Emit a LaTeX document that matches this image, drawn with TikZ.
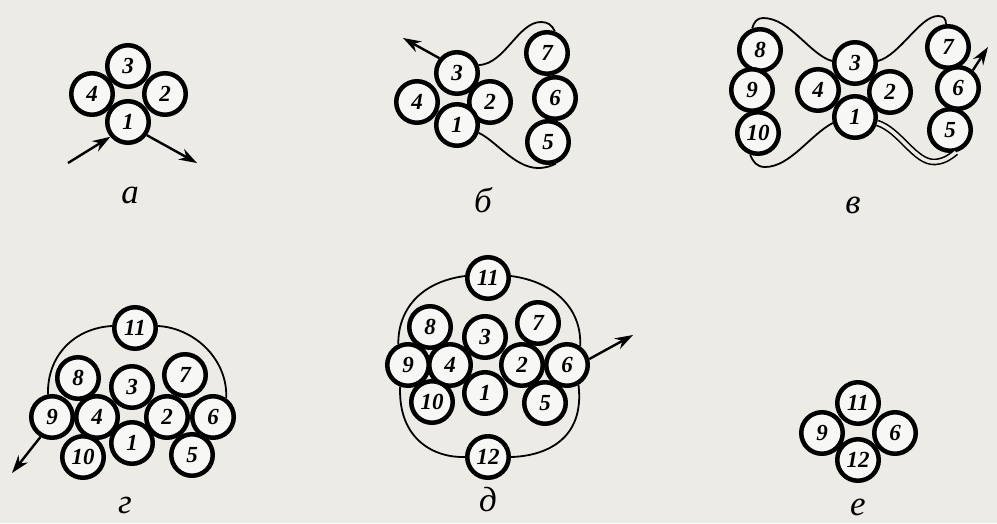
\documentclass[tikz,border=0pt]{standalone}
\usepackage{fontspec}
\setmainfont{Liberation Serif}
\usetikzlibrary{arrows.meta}
\definecolor{paper}{RGB}{236,235,230}

\begin{document}
\begin{tikzpicture}[x=1pt, y=-1pt,
  pulley/.style={circle, draw, line width=4.5pt, fill=paper!40!white, minimum size=41.5pt, inner sep=0pt, font=\fontsize{23}{23}\selectfont\bfseries\itshape},
  belt/.style={line width=1.8pt},
  dbelt/.style={double=paper, double distance=3.5pt, line width=1.6pt},
  flow/.style={line width=2.4pt, -{Stealth[length=18pt,width=12pt]}},
  caption/.style={font=\fontsize{35}{35}\selectfont\itshape}
]
\fill[paper] (0,0) rectangle (997,523);
\useasboundingbox (0,0) rectangle (997,523);

% a
\node[pulley] (a3) at (128,66) {3};
\node[pulley] (a4) at (92,94) {4};
\node[pulley] (a2) at (165,94) {2};
\node[pulley] (a1) at (128,122) {1};
\coordinate (ain) at (68,163);
\coordinate (aout) at (197,163);
\draw[flow] (ain) -- (a1.220);
\draw[flow] (a1.-35) -- (aout);
\node[caption] (capa) at (130,195) {а};

% b
\node[pulley] (b3) at (457,73) {3};
\node[pulley] (b4) at (417,102) {4};
\node[pulley] (b2) at (490,102) {2};
\node[pulley] (b1) at (457,125) {1};
\node[pulley] (b7) at (547,53) {7};
\node[pulley] (b6) at (555,98) {6};
\node[pulley] (b5) at (548,142) {5};
\coordinate (b7t) at (541,22);
\coordinate (b5b) at (538,168);
\coordinate (bout) at (403,38);
\draw[belt] (b3.20) .. controls (505,64) and (518,22) .. (b7t) .. controls (548,22) and (552,25) .. (b7.70);
\draw[belt] (b1.-20) .. controls (495,140) and (515,168) .. (b5b) .. controls (546,168) and (551,166) .. (b5.-70);
\draw[flow] (b3.140) -- (bout);
\node[caption] (capb) at (483,200) {б};

% v
\node[pulley] (c8) at (760,50) {8};
\node[pulley] (c9) at (752,90) {9};
\node[pulley] (c10) at (758,133) {10};
\node[pulley] (c3) at (855,63) {3};
\node[pulley] (c4) at (818,90) {4};
\node[pulley] (c2) at (890,92) {2};
\node[pulley] (c1) at (855,117) {1};
\node[pulley] (c7) at (948,47) {7};
\node[pulley] (c6) at (958,88) {6};
\node[pulley] (c5) at (950,130) {5};
\coordinate (c8t) at (763,18);
\coordinate (c7t) at (938,16);
\coordinate (c10b) at (765,167);
\coordinate (c5b) at (935,162);
\coordinate (cout) at (988,47);
\draw[belt] (c3.175) .. controls (810,55) and (790,18) .. (c8t) .. controls (757,18) and (754,22) .. (c8.110);
\draw[belt] (c3.5) .. controls (900,55) and (920,16) .. (c7t) .. controls (944,16) and (946,19) .. (c7.95);
\draw[belt] (c1.195) .. controls (810,135) and (790,167) .. (c10b) .. controls (757,167) and (753,162) .. (c10.250);
\draw[dbelt] (c1.-15) .. controls (900,130) and (915,163) .. (c5b) .. controls (945,161) and (950,157) .. (c5.-75);
\draw[flow] (c6.50) -- (cout);
\node[caption] (capc) at (853,205) {в};

% g
\node[pulley] (d11) at (135,328) {11};
\node[pulley] (d8) at (78,378) {8};
\node[pulley] (d3) at (132,387) {3};
\node[pulley] (d7) at (185,375) {7};
\node[pulley] (d9) at (52,417) {9};
\node[pulley] (d4) at (97,417) {4};
\node[pulley] (d2) at (167,417) {2};
\node[pulley] (d6) at (213,417) {6};
\node[pulley] (d10) at (83,457) {10};
\node[pulley] (d1) at (132,443) {1};
\node[pulley] (d5) at (192,455) {5};
\coordinate (dout) at (12,473);
\draw[belt] (d11.175) .. controls (75,328) and (47,355) .. (d9.100);
\draw[belt] (d11.5) .. controls (195,328) and (228,360) .. (d6.55);
\draw[flow] (d9.240) -- (dout);
\node[caption] (capd) at (125,505) {г};

% d
\node[pulley] (e11) at (488,278) {11};
\node[pulley] (e8) at (430,327) {8};
\node[pulley] (e3) at (485,337) {3};
\node[pulley] (e7) at (538,323) {7};
\node[pulley] (e9) at (408,365) {9};
\node[pulley] (e4) at (450,365) {4};
\node[pulley] (e2) at (522,365) {2};
\node[pulley] (e6) at (567,365) {6};
\node[pulley] (e10) at (432,402) {10};
\node[pulley] (e1) at (485,393) {1};
\node[pulley] (e5) at (545,403) {5};
\node[pulley] (e12) at (488,457) {12};
\coordinate (eout) at (633,335);
\draw[belt] (e11.175) .. controls (420,282) and (398,310) .. (e9.115);
\draw[belt] (e11.5) .. controls (556,282) and (582,310) .. (e6.55);
\draw[belt] (e9.-110) .. controls (398,440) and (435,458) .. (e12.180);
\draw[belt] (e6.-60) .. controls (585,440) and (545,456) .. (e12.0);
\draw[flow] (e6.15) -- (eout);
\node[caption] (cape) at (488,500) {д};

% e
\node[pulley] (f11) at (858,403) {11};
\node[pulley] (f9) at (822,433) {9};
\node[pulley] (f6) at (895,433) {6};
\node[pulley] (f12) at (858,460) {12};
\node[caption] (capf) at (858,507) {е};
\end{tikzpicture}
\end{document}
